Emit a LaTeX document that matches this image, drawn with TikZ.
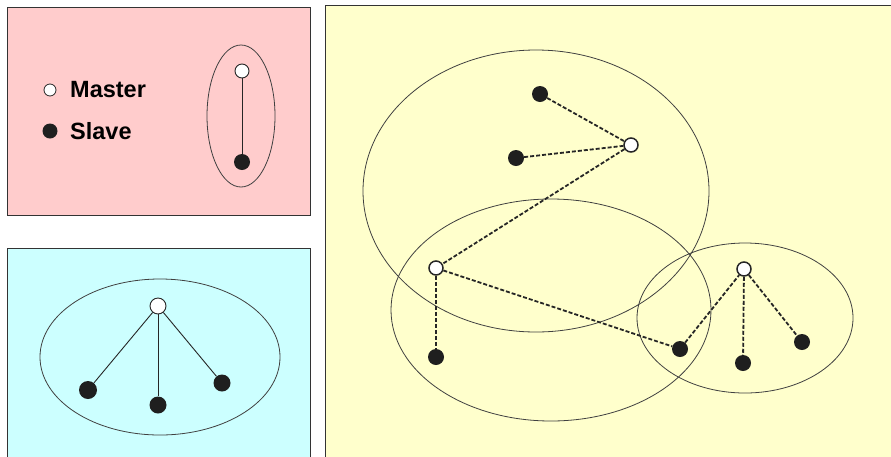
\documentclass[tikz,border=0pt]{standalone}
\usepackage{fontspec}
\setmainfont{Liberation Sans}
\definecolor{pinkbg}{RGB}{255,204,204}
\definecolor{cyanbg}{RGB}{204,255,255}
\definecolor{yellowbg}{RGB}{255,255,204}
\begin{document}
\begin{tikzpicture}[
        x=1pt, y=-1pt,
        panel/.style={draw=black!80, line width=0.8pt},
        zone/.style={draw=black!75, line width=0.8pt},
        master/.style={circle, draw=black!85, line width=1.5pt, fill=white, inner sep=0pt, minimum size=14pt},
        slave/.style={circle, fill=black!88, inner sep=0pt, minimum size=16pt},
        link/.style={draw=black!85, line width=0.9pt},
        radio/.style={draw=black!85, line width=1.8pt, dash pattern=on 4pt off 2pt},
        legendtext/.style={anchor=west, inner sep=0pt, font=\bfseries\fontsize{23.5}{28}\selectfont}
    ]
    \useasboundingbox (0,0) rectangle (891,456);
    \fill[white] (0,0) rectangle (891,456);

    % legend panel
    \filldraw[panel, fill=pinkbg] (7,7) rectangle (310,215);
    \node[master, minimum size=12pt, line width=0.8pt] (keym) at (50,90) {};
    \node[slave, minimum size=15pt] (keys) at (50,131) {};
    \node[legendtext] (keymtext) at (70,90) {Master};
    \node[legendtext] (keystext) at (70,131) {Slave};
    \draw[zone] (241,116) ellipse [x radius=34pt, y radius=71pt];
    \node[master, minimum size=14pt, line width=0.9pt] (pm) at (242,71) {};
    \node[slave] (ps) at (242,162) {};
    \draw[link] (pm) -- (ps);

    % piconet panel
    \filldraw[panel, fill=cyanbg] (7,248) rectangle (310,470);
    \draw[zone] (160,357) ellipse [x radius=120pt, y radius=78pt];
    \node[master, minimum size=16pt, line width=0.9pt] (cm) at (158,306) {};
    \node[slave, minimum size=18pt] (cs1) at (88,390) {};
    \node[slave, minimum size=17pt] (cs2) at (158,405) {};
    \node[slave, minimum size=17pt] (cs3) at (222,383) {};
    \draw[link] (cm) -- (cs1);
    \draw[link] (cm) -- (cs2);
    \draw[link] (cm) -- (cs3);

    % scatternet panel
    \filldraw[panel, fill=yellowbg] (325,5) rectangle (900,470);
    \draw[zone] (536,191) ellipse [x radius=173pt, y radius=141pt];
    \draw[zone] (551,310) ellipse [x radius=160pt, y radius=111pt];
    \draw[zone] (745,318) ellipse [x radius=108pt, y radius=75pt];
    \node[master] (ma) at (631,145) {};
    \node[slave] (sa1) at (540,94) {};
    \node[slave] (sa2) at (516,158) {};
    \node[master] (mb) at (436,268) {};
    \node[slave] (sb) at (436,357) {};
    \node[master] (mc) at (744,269) {};
    \node[slave] (sc1) at (680,349) {};
    \node[slave] (sc2) at (743,363) {};
    \node[slave] (sc3) at (802,342) {};
    \draw[radio] (sa1) -- (ma);
    \draw[radio] (sa2) -- (ma);
    \draw[radio] (ma) -- (mb);
    \draw[radio] (mb) -- (sb);
    \draw[radio] (mb) -- (sc1);
    \draw[radio] (sc1) -- (mc);
    \draw[radio] (mc) -- (sc2);
    \draw[radio] (mc) -- (sc3);
\end{tikzpicture}
\end{document}
